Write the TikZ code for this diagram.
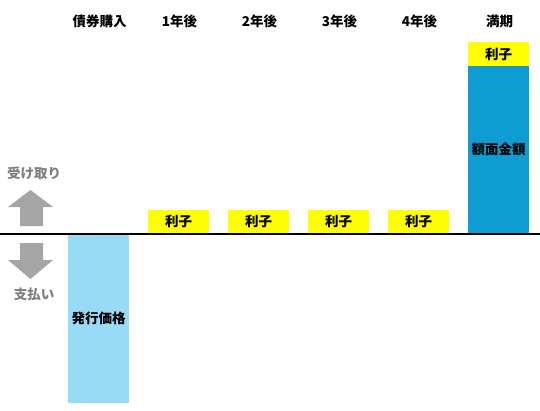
\documentclass[tikz,border=0pt]{standalone}
\usepackage{fontspec}
\setmainfont{Noto Sans CJK JP}
\usetikzlibrary{calc,positioning}
\definecolor{rishiyellow}{HTML}{FFFF00}
\definecolor{gakumenblue}{HTML}{0E9DD3}
\definecolor{hakkoblue}{HTML}{97DBF7}
\definecolor{arrowgray}{HTML}{A5A5A5}
\definecolor{textgray}{HTML}{7F7F7F}

\begin{document}
\begin{tikzpicture}[x=1pt, y=-1pt, every node/.style={font=\bfseries\fontsize{13.5}{15}\selectfont}]
    \tikzset{HeadStyle/.style = {inner sep=0pt},
      BarStyle/.style = {minimum width=61pt, inner sep=0pt, outer sep=0pt},
      RishiStyle/.style = {BarStyle, fill=rishiyellow, minimum height=24pt},
      SideStyle/.style = {text=textgray, inner sep=0pt},
      ArrowStyle/.style = {fill=arrowgray}}
    \useasboundingbox (0,0) rectangle (540,410);
    % column headers
    \node[HeadStyle] (H0) at (99.5,21) {債券購入};
    \node[HeadStyle] (H1) at (179.5,21) {1年後};
    \node[HeadStyle] (H2) at (259.5,21) {2年後};
    \node[HeadStyle] (H3) at (339.5,21) {3年後};
    \node[HeadStyle] (H4) at (419.5,21) {4年後};
    \node[HeadStyle] (H5) at (499.5,21) {満期};
    % axis
    \coordinate (AxisL) at (0,234);
    \coordinate (AxisR) at (540,234);
    % bars
    \node[BarStyle, fill=hakkoblue, minimum height=168pt, anchor=north] (Hakko) at (98.5,234.5) {発行価格};
    \node[RishiStyle, anchor=south] (R1) at (178.5,233.5) {利子};
    \node[RishiStyle, anchor=south] (R2) at (258.5,233.5) {利子};
    \node[RishiStyle, anchor=south] (R3) at (338.5,233.5) {利子};
    \node[RishiStyle, anchor=south] (R4) at (418.5,233.5) {利子};
    \node[BarStyle, fill=gakumenblue, minimum height=167.5pt, anchor=south] (Gakumen) at (498.5,233.5) {額面金額};
    \node[RishiStyle, above=0pt of Gakumen] (R5) {利子};
    \draw[line width=1.2pt] (AxisL) -- (AxisR);
    % receive / pay
    \node[SideStyle] (Uke) at (34,173) {受け取り};
    \node[SideStyle] (Shi) at (34,294) {支払い};
    \fill[ArrowStyle] (30.5,190) -- (53,207) -- (43,207) -- (43,226) -- (20,226) -- (20,207) -- (8,207) -- cycle;
    \fill[ArrowStyle] (30.5,279) -- (53,260) -- (43,260) -- (43,243) -- (20,243) -- (20,260) -- (8,260) -- cycle;
  \end{tikzpicture}
\end{document}
